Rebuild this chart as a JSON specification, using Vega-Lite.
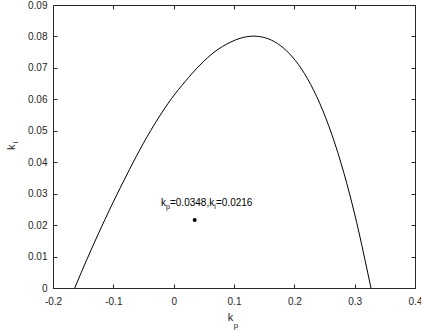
{
  "$schema": "https://vega.github.io/schema/vega-lite/v6.json",
  "width": 362,
  "height": 283,
  "autosize": "none",
  "padding": {"left": 53, "top": 5, "right": 6, "bottom": 44},
  "background": "white",
  "config": {
    "view": {"stroke": null},
    "font": "Liberation Sans",
    "axis": {
      "grid": false,
      "domainColor": "#262626",
      "tickColor": "#262626",
      "labelColor": "#262626",
      "titleColor": "#262626",
      "labelFont": "Liberation Sans",
      "titleFont": "Liberation Sans",
      "labelFontSize": 10,
      "titleFontWeight": "normal",
      "tickSize": -4,
      "domainWidth": 1,
      "tickWidth": 1,
      "labelFlush": false,
      "labelOverlap": false
    }
  },
  "datasets": {
    "curve": [
      {"kp": -0.164, "ki": 0.0},
      {"kp": -0.154, "ki": 0.00455},
      {"kp": -0.144, "ki": 0.0090},
      {"kp": -0.124, "ki": 0.0176},
      {"kp": -0.104, "ki": 0.0258},
      {"kp": -0.089, "ki": 0.0317},
      {"kp": -0.0735, "ki": 0.0376},
      {"kp": -0.0503, "ki": 0.0460},
      {"kp": -0.0255, "ki": 0.0540},
      {"kp": -0.0033, "ki": 0.0603},
      {"kp": 0.0188, "ki": 0.0656},
      {"kp": 0.0436, "ki": 0.0709},
      {"kp": 0.0685, "ki": 0.0752},
      {"kp": 0.0934, "ki": 0.0781},
      {"kp": 0.1099, "ki": 0.0794},
      {"kp": 0.132, "ki": 0.0801},
      {"kp": 0.152, "ki": 0.07955},
      {"kp": 0.172, "ki": 0.07775},
      {"kp": 0.192, "ki": 0.07451},
      {"kp": 0.212, "ki": 0.06963},
      {"kp": 0.232, "ki": 0.0629},
      {"kp": 0.252, "ki": 0.05412},
      {"kp": 0.272, "ki": 0.0431},
      {"kp": 0.292, "ki": 0.02962},
      {"kp": 0.307, "ki": 0.01778},
      {"kp": 0.317, "ki": 0.00902},
      {"kp": 0.327, "ki": 0.0}
    ],
    "pt": [{"kp": 0.0348, "ki": 0.0216}]
  },
  "resolve": {"axis": {"x": "independent", "y": "independent"}},
  "layer": [
    {
      "data": {"name": "curve"},
      "mark": {"type": "line", "interpolate": "monotone", "stroke": "#000000", "strokeWidth": 1, "clip": true},
      "encoding": {
        "x": {"field": "kp", "type": "quantitative",
              "scale": {"domain": [-0.2, 0.4], "nice": false, "zero": false},
              "axis": {"orient": "bottom", "values": [-0.2, -0.1, 0, 0.1, 0.2, 0.3, 0.4],
                       "labelExpr": "datum.value < 0 ? '-' + format(-datum.value, '~g') : format(datum.value, '~g')",
                       "labelPadding": 12, "title": "k", "titleFontSize": 11,
                       "titleX": 177, "titleY": 32.7, "titleAlign": "center", "titleBaseline": "alphabetic", "titleAnchor": null}},
        "y": {"field": "ki", "type": "quantitative",
              "scale": {"domain": [0, 0.09], "nice": false, "zero": false},
              "axis": {"orient": "left", "values": [0, 0.01, 0.02, 0.03, 0.04, 0.05, 0.06, 0.07, 0.08, 0.09], "format": "~g",
                       "labelPadding": 10, "title": "k", "titleFontSize": 11, "titleAngle": 270,
                       "titleX": -39, "titleY": 141.7, "titleAlign": "center", "titleBaseline": "alphabetic", "titleAnchor": null}},
        "order": {"field": "kp", "type": "quantitative"}
      }
    },
    {
      "data": {"name": "pt"},
      "mark": {"type": "point", "filled": true, "color": "#000000", "size": 16, "opacity": 1},
      "encoding": {
        "x": {"field": "kp", "type": "quantitative",
              "axis": {"orient": "top", "values": [-0.2, -0.1, 0, 0.1, 0.2, 0.3, 0.4], "labels": false,
                       "title": "p", "titleFontSize": 8,
                       "titleX": 182.5, "titleY": 322.5, "titleAlign": "center", "titleBaseline": "alphabetic", "titleAnchor": null}},
        "y": {"field": "ki", "type": "quantitative",
              "axis": {"orient": "right", "values": [0, 0.01, 0.02, 0.03, 0.04, 0.05, 0.06, 0.07, 0.08, 0.09], "labels": false,
                       "title": "i", "titleFontSize": 8, "titleAngle": 270,
                       "titleX": -398, "titleY": 136.9, "titleAlign": "center", "titleBaseline": "alphabetic", "titleAnchor": null}}
      }
    },
    {
      "data": {"name": "pt"},
      "mark": {"type": "text", "text": "k", "fontSize": 10, "color": "#000000", "align": "left", "baseline": "alphabetic", "dx": -33.7, "dy": -14},
      "encoding": {"x": {"field": "kp", "type": "quantitative", "axis": null}, "y": {"field": "ki", "type": "quantitative", "axis": null}}
    },
    {
      "data": {"name": "pt"},
      "mark": {"type": "text", "text": "p", "fontSize": 7, "color": "#000000", "align": "left", "baseline": "alphabetic", "dx": -28.7, "dy": -11.3},
      "encoding": {"x": {"field": "kp", "type": "quantitative", "axis": null}, "y": {"field": "ki", "type": "quantitative", "axis": null}}
    },
    {
      "data": {"name": "pt"},
      "mark": {"type": "text", "text": "=0.0348,k", "fontSize": 10, "color": "#000000", "align": "left", "baseline": "alphabetic", "dx": -24.7, "dy": -14},
      "encoding": {"x": {"field": "kp", "type": "quantitative", "axis": null}, "y": {"field": "ki", "type": "quantitative", "axis": null}}
    },
    {
      "data": {"name": "pt"},
      "mark": {"type": "text", "text": "i", "fontSize": 7, "color": "#000000", "align": "left", "baseline": "alphabetic", "dx": 19.5, "dy": -11.3},
      "encoding": {"x": {"field": "kp", "type": "quantitative", "axis": null}, "y": {"field": "ki", "type": "quantitative", "axis": null}}
    },
    {
      "data": {"name": "pt"},
      "mark": {"type": "text", "text": "=0.0216", "fontSize": 10, "color": "#000000", "align": "left", "baseline": "alphabetic", "dx": 21.3, "dy": -14},
      "encoding": {"x": {"field": "kp", "type": "quantitative", "axis": null}, "y": {"field": "ki", "type": "quantitative", "axis": null}}
    }
  ]
}
